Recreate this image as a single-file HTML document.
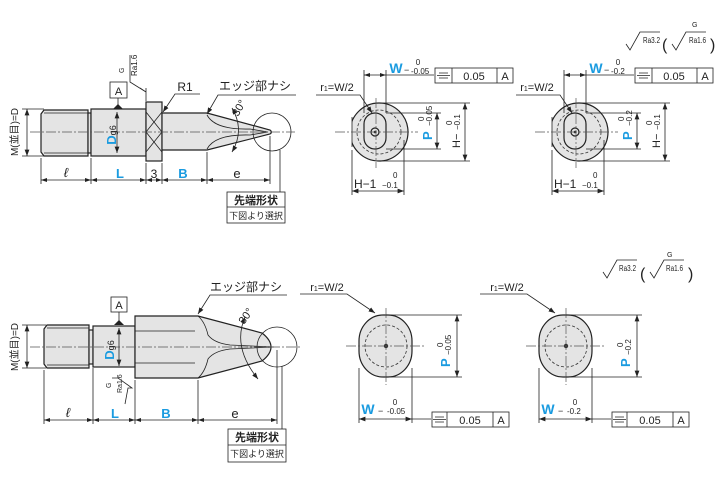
<!DOCTYPE html>
<html><head><meta charset="utf-8"><style>
html,body{margin:0;padding:0;background:#fff}
svg{display:block}
text{font-family:"Liberation Sans","Noto Sans CJK JP",sans-serif;fill:#222}
.b{fill:#1a9be0;font-weight:bold}
.l{stroke:#222;stroke-width:0.8;fill:none}
.o{stroke:#222;stroke-width:1.2;fill:#e4e4e4}
.c{stroke:#555;stroke-width:0.7;stroke-dasharray:10 2 2 2;fill:none}
.d{stroke:#333;stroke-width:0.8;stroke-dasharray:3 2;fill:none}
</style></head><body>
<svg width="725" height="480" viewBox="0 0 725 480" xmlns="http://www.w3.org/2000/svg">
<defs>
<marker id="a" viewBox="0 0 8 6" refX="8" refY="3" markerWidth="8" markerHeight="6" orient="auto-start-reverse"><path d="M0,0L8,3L0,6z" fill="#222"/></marker>
</defs>

<!-- ===== TOP LEFT PIN ===== -->
<path class="o" d="M44,110H88V156H44L41,152V114Z"/>
<line class="l" x1="44" y1="113" x2="88" y2="113"/><line class="l" x1="44" y1="153" x2="88" y2="153"/>
<rect class="o" x="88" y="113" width="3" height="40"/>
<rect class="o" x="91" y="109" width="55" height="47"/>
<rect class="o" x="146" y="102" width="16" height="59"/>
<path class="l" d="M146,112L162,132L146,152M162,112L146,132L162,152"/>
<path class="o" d="M162,113H207L270,130Q273,132 270,134L207,150H162Z"/>
<path class="l" d="M207,115Q215,130 250,129 L268,132 L250,135 Q215,134 207,149"/>
<circle class="l" cx="272" cy="132" r="19"/>
<line class="c" x1="30" y1="132" x2="295" y2="132"/>
<line class="l" x1="27" y1="109" x2="27" y2="156" marker-start="url(#a)" marker-end="url(#a)"/>
<line class="l" x1="22" y1="109" x2="44" y2="109"/><line class="l" x1="22" y1="156" x2="44" y2="156"/>
<text x="18" y="132" font-size="10" transform="rotate(-90 18 132)" text-anchor="middle">M(並目)=D</text>
<line class="l" x1="117" y1="112" x2="117" y2="153" marker-start="url(#a)" marker-end="url(#a)"/>
<text x="116" y="135" class="b" font-size="13" transform="rotate(-90 116 135)" text-anchor="middle">D<tspan font-size="9" font-weight="normal" fill="#222">g6</tspan></text>
<rect x="110" y="82" width="17" height="16" fill="#fff" stroke="#222" stroke-width="0.8"/>
<text x="118.5" y="95" font-size="11" text-anchor="middle">A</text>
<line class="l" x1="118" y1="98" x2="118" y2="105"/><path d="M113,109L118,104L123,109z" fill="#222"/>
<path class="l" d="M130,55V82L146,92V101M140,88L146,92L146,88"/>
<text x="124" y="73" font-size="7" transform="rotate(-90 124 73)">G</text>
<text x="137" y="76" font-size="8" transform="rotate(-90 137 76)">Ra1.6</text>
<g class="l">
<line x1="41" y1="158" x2="41" y2="184"/><line x1="91" y1="158" x2="91" y2="184"/><line x1="146" y1="163" x2="146" y2="184"/>
<line x1="162" y1="163" x2="162" y2="184"/><line x1="207" y1="152" x2="207" y2="184"/><line x1="270" y1="136" x2="270" y2="184"/>
</g>
<line class="l" x1="41" y1="180" x2="270" y2="180"/>
<g fill="#222"><path d="M41,180l6,-2v4z M91,180l-6,-2v4z M91,180l6,-2v4z M146,180l-6,-2v4z M146,180l6,-2v4z M162,180l-6,-2v4z M162,180l6,-2v4z M207,180l-6,-2v4z M207,180l6,-2v4z M270,180l-6,-2v4z"/></g>
<text x="66" y="177" font-size="13" font-style="italic" text-anchor="middle">ℓ</text>
<text x="120" y="178" class="b" font-size="13" text-anchor="middle">L</text>
<text x="154" y="178" font-size="12" text-anchor="middle">3</text>
<text x="183" y="178" class="b" font-size="13" text-anchor="middle">B</text>
<text x="237" y="178" font-size="13" text-anchor="middle">e</text>
<text x="185" y="91" font-size="12" text-anchor="middle">R1</text>
<path class="l" d="M200,94H175L163,112" marker-end="url(#a)"/>
<text x="255" y="90" font-size="12" text-anchor="middle">エッジ部ナシ</text>
<path class="l" d="M296,95H218L207,114" marker-end="url(#a)"/>
<path class="l" d="M232,108Q245,130 232,152" marker-start="url(#a)" marker-end="url(#a)"/>
<text x="238" y="117" font-size="11" transform="rotate(-60 238 117)">30°</text>
<line class="l" x1="280" y1="150" x2="280" y2="192"/>
<rect x="227" y="192" width="58" height="31" fill="#fff" stroke="#222" stroke-width="0.8"/>
<line class="l" x1="227" y1="207" x2="285" y2="207"/>
<text x="256" y="204" font-size="11" font-weight="bold" text-anchor="middle">先端形状</text>
<text x="256" y="219" font-size="9" text-anchor="middle">下図より選択</text>

<!-- ===== TOP RIGHT VIEWS ===== -->
<g id="tv">
<clipPath id="cp1"><rect x="352" y="90" width="60" height="80"/></clipPath>
<circle class="o" cx="379" cy="132" r="29" clip-path="url(#cp1)"/>
<line class="l" x1="352" y1="117" x2="352" y2="147" stroke-width="1.2"/>
<circle class="d" cx="379" cy="132" r="22"/>
<rect class="o" x="364" y="113" width="22" height="36" rx="11" fill="#ddd"/>
<circle class="o" cx="375" cy="132" r="4"/><circle cx="375" cy="132" r="1.3" fill="#222"/>
<line class="c" x1="335" y1="132" x2="418" y2="132"/><line class="c" x1="376" y1="98" x2="376" y2="168"/>
<line class="l" x1="364" y1="70" x2="364" y2="113"/><line class="l" x1="386" y1="70" x2="386" y2="113"/>
<line class="l" x1="364" y1="75" x2="386" y2="75"/><path d="M364,75l6,-2v4zM386,75l-6,-2v4z" fill="#222"/>
<line class="l" x1="386" y1="75" x2="434" y2="75"/>
<text x="396" y="73" class="b" font-size="14" text-anchor="middle">W</text>
<text x="404" y="73" font-size="9">−</text>
<text x="418" y="65" font-size="8" text-anchor="middle">0</text>
<rect x="435" y="68" width="78" height="15" fill="#fff" stroke="#222" stroke-width="0.8"/>
<line class="l" x1="452" y1="68" x2="452" y2="83"/><line class="l" x1="497" y1="68" x2="497" y2="83"/>
<path class="l" d="M439,73h9M437,75.5h13M439,78h9" stroke-width="0.6"/>
<text x="474" y="80" font-size="11" text-anchor="middle">0.05</text>
<text x="505" y="80" font-size="11" text-anchor="middle">A</text>
<text x="337" y="91" font-size="11" text-anchor="middle">r<tspan font-size="7">1</tspan>=W/2</text>
<path class="l" d="M316,95H360L372,113" marker-end="url(#a)"/>
<line class="l" x1="386" y1="113" x2="441" y2="113"/><line class="l" x1="386" y1="149" x2="441" y2="149"/>
<line class="l" x1="437" y1="113" x2="437" y2="149" marker-start="url(#a)" marker-end="url(#a)"/>
<text x="432" y="140" class="b" font-size="13" transform="rotate(-90 432 140)">P</text>
<text x="424" y="121" font-size="8" transform="rotate(-90 424 121)">0</text>
<line class="l" x1="377" y1="103" x2="470" y2="103"/><line class="l" x1="377" y1="161" x2="470" y2="161"/>
<line class="l" x1="465" y1="103" x2="465" y2="161" marker-start="url(#a)" marker-end="url(#a)"/>
<text x="460" y="148" font-size="11" transform="rotate(-90 460 148)">H−</text>
<text x="460" y="130" font-size="8" transform="rotate(-90 460 130)">−0.1</text>
<text x="452" y="125" font-size="8" transform="rotate(-90 452 125)">0</text>
<line class="l" x1="352" y1="150" x2="352" y2="195"/><line class="l" x1="404" y1="140" x2="404" y2="195"/>
<line class="l" x1="352" y1="191" x2="404" y2="191" marker-start="url(#a)" marker-end="url(#a)"/>
<text x="354" y="188" font-size="12">H−1</text>
<text x="382" y="188" font-size="8">−0.1</text>
<text x="393" y="178" font-size="8">0</text>
</g>
<use href="#tv" x="200"/>
<text x="411" y="74" font-size="8">-0.05</text>
<text x="432" y="126" font-size="8" transform="rotate(-90 432 126)">−0.05</text>
<text x="611" y="74" font-size="8">-0.2</text>
<text x="632" y="126" font-size="8" transform="rotate(-90 632 126)">−0.2</text>
<!-- roughness top right -->
<path class="l" d="M626,44l4,6l10,-18h20"/>
<text x="643" y="43" font-size="8" textLength="17" lengthAdjust="spacingAndGlyphs">Ra3.2</text>
<text x="662" y="50" font-size="16">(</text>
<path class="l" d="M672,44l4,6l10,-18h20"/>
<text x="692" y="27" font-size="7">G</text>
<text x="689" y="43" font-size="8" textLength="17" lengthAdjust="spacingAndGlyphs">Ra1.6</text>
<text x="710" y="50" font-size="16">)</text>

<!-- ===== BOTTOM LEFT PIN ===== -->
<path class="o" d="M47,325H89V368H47L44,364V329Z"/>
<line class="l" x1="47" y1="328" x2="89" y2="328"/><line class="l" x1="47" y1="365" x2="89" y2="365"/>
<rect class="o" x="89" y="330" width="4" height="34"/>
<rect class="o" x="93" y="326" width="42" height="41"/>
<path class="o" d="M135,316H198L262,333Q280,347 262,361L198,378H135Z"/>
<path class="l" d="M135,331H195M135,363H195"/>
<path class="l" d="M198,316Q205,322 208,335Q214,343 230,345L274,347L230,349Q214,351 208,359Q205,372 198,378"/>
<circle class="l" cx="277" cy="347" r="20"/>
<line class="c" x1="30" y1="347" x2="300" y2="347"/>
<line class="l" x1="27" y1="325" x2="27" y2="368" marker-start="url(#a)" marker-end="url(#a)"/>
<line class="l" x1="22" y1="325" x2="46" y2="325"/><line class="l" x1="22" y1="368" x2="46" y2="368"/>
<text x="18" y="347" font-size="10" transform="rotate(-90 18 347)" text-anchor="middle">M(並目)=D</text>
<line class="l" x1="119" y1="328" x2="119" y2="366" marker-start="url(#a)" marker-end="url(#a)"/>
<text x="114" y="350" class="b" font-size="13" transform="rotate(-90 114 350)" text-anchor="middle">D<tspan font-size="9" font-weight="normal" fill="#222">g6</tspan></text>
<rect x="111" y="297" width="16" height="15" fill="#fff" stroke="#222" stroke-width="0.8"/>
<text x="119" y="309" font-size="11" text-anchor="middle">A</text>
<line class="l" x1="119" y1="312" x2="119" y2="321"/><path d="M114,325L119,320L124,325z" fill="#222"/>
<path class="l" d="M112,378H118L132,388H128L125,404"/>
<text x="111" y="388" font-size="7" transform="rotate(-90 111 388)">G</text>
<text x="122" y="393" font-size="7" transform="rotate(-90 122 393)">Ra1.6</text>
<g class="l">
<line x1="44" y1="370" x2="44" y2="424"/><line x1="93" y1="368" x2="93" y2="424"/><line x1="135" y1="380" x2="135" y2="424"/>
<line x1="198" y1="380" x2="198" y2="424"/><line x1="277" y1="350" x2="277" y2="424"/>
</g>
<line class="l" x1="44" y1="420" x2="277" y2="420"/>
<g fill="#222"><path d="M44,420l6,-2v4z M93,420l-6,-2v4z M93,420l6,-2v4z M135,420l-6,-2v4z M135,420l6,-2v4z M198,420l-6,-2v4z M198,420l6,-2v4z M277,420l-6,-2v4z"/></g>
<text x="68" y="417" font-size="13" font-style="italic" text-anchor="middle">ℓ</text>
<text x="115" y="418" class="b" font-size="13" text-anchor="middle">L</text>
<text x="166" y="418" class="b" font-size="13" text-anchor="middle">B</text>
<text x="235" y="418" font-size="13" text-anchor="middle">e</text>
<text x="246" y="291" font-size="12" text-anchor="middle">エッジ部ナシ</text>
<path class="l" d="M287,295H210L198,314" marker-end="url(#a)"/>
<path class="l" d="M245,317Q232,347 258,379" marker-start="url(#a)" marker-end="url(#a)"/>
<text x="244" y="325" font-size="11" transform="rotate(-55 244 325)">30°</text>
<line class="l" x1="282" y1="366" x2="282" y2="429"/>
<rect x="228" y="429" width="58" height="33" fill="#fff" stroke="#222" stroke-width="0.8"/>
<line class="l" x1="228" y1="445" x2="286" y2="445"/>
<text x="257" y="441" font-size="11" font-weight="bold" text-anchor="middle">先端形状</text>
<text x="257" y="457" font-size="9" text-anchor="middle">下図より選択</text>

<!-- ===== BOTTOM RIGHT VIEWS ===== -->
<g id="bv">
<rect class="o" x="359" y="315" width="53" height="62" rx="24" ry="26"/>
<circle class="d" cx="386" cy="346" r="21"/>
<circle cx="386" cy="346" r="2.2" fill="#222"/>
<line class="c" x1="346" y1="346" x2="425" y2="346"/><line class="c" x1="386" y1="308" x2="386" y2="385"/>
<text x="327" y="291" font-size="11" text-anchor="middle">r<tspan font-size="7">1</tspan>=W/2</text>
<path class="l" d="M300,294H347L375,313" marker-end="url(#a)"/>
<line class="l" x1="386" y1="315" x2="462" y2="315"/><line class="l" x1="386" y1="377" x2="462" y2="377"/>
<line class="l" x1="457" y1="315" x2="457" y2="377" marker-start="url(#a)" marker-end="url(#a)"/>
<text x="450" y="367" class="b" font-size="13" transform="rotate(-90 450 367)">P</text>
<text x="443" y="347" font-size="8" transform="rotate(-90 443 347)">0</text>
<line class="l" x1="359" y1="368" x2="359" y2="423"/><line class="l" x1="412" y1="368" x2="412" y2="423"/>
<line class="l" x1="359" y1="419" x2="412" y2="419" marker-start="url(#a)" marker-end="url(#a)"/>
<line class="l" x1="412" y1="419" x2="431" y2="419"/>
<text x="368" y="414" class="b" font-size="14" text-anchor="middle">W</text>
<text x="378" y="414" font-size="9">−</text>
<text x="395" y="405" font-size="8" text-anchor="middle">0</text>
<rect x="432" y="412" width="77" height="15" fill="#fff" stroke="#222" stroke-width="0.8"/>
<line class="l" x1="447" y1="412" x2="447" y2="427"/><line class="l" x1="493" y1="412" x2="493" y2="427"/>
<path class="l" d="M435,417h9M433,419.5h13M435,422h9" stroke-width="0.6"/>
<text x="470" y="424" font-size="11" text-anchor="middle">0.05</text>
<text x="501" y="424" font-size="11" text-anchor="middle">A</text>
</g>
<use href="#bv" x="180"/>
<text x="451" y="355" font-size="8" transform="rotate(-90 451 355)">−0.05</text>
<text x="387" y="414" font-size="8">-0.05</text>
<text x="631" y="355" font-size="8" transform="rotate(-90 631 355)">−0.2</text>
<text x="567" y="414" font-size="8">-0.2</text>
<path class="l" d="M603,272l4,6l10,-18h20"/>
<text x="619" y="271" font-size="8" textLength="17" lengthAdjust="spacingAndGlyphs">Ra3.2</text>
<text x="640" y="279" font-size="16">(</text>
<path class="l" d="M650,272l4,6l10,-18h20"/>
<text x="667" y="257" font-size="7">G</text>
<text x="666" y="271" font-size="8" textLength="17" lengthAdjust="spacingAndGlyphs">Ra1.6</text>
<text x="688" y="279" font-size="16">)</text>
</svg>
</body></html>
